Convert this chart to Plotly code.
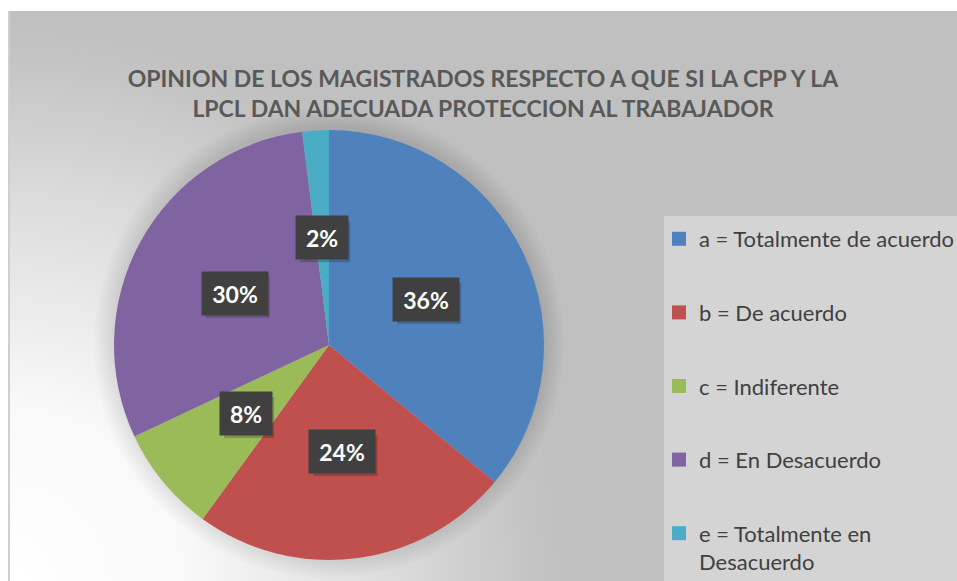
import numpy as np
import plotly.graph_objects as go

# ---- data ----
labels = ["a = Totalmente de acuerdo", "b = De acuerdo", "c = Indiferente",
          "d = En Desacuerdo", "e = Totalmente en<br>Desacuerdo"]
values = [36, 24, 8, 30, 2]
pct_text = ["36%", "24%", "8%", "30%", "2%"]
colors = ["#4F81BD", "#C0504D", "#9BBB59", "#8064A2", "#4BACC6"]
title_text = ("OPINION DE LOS MAGISTRADOS RESPECTO A QUE SI LA CPP Y LA<br>"
              "LPCL DAN ADECUADA PROTECCION AL TRABAJADOR")

# ---- layout geometry (pixels) ----
W, H = 957, 581
L0, T0 = 9, 11          # chart area origin
CX, CY, R = 329, 345, 215

fig = go.Figure()

# background radial gradient (white at bottom-left, grey elsewhere)
G = 1000
gx, gy = L0, H
fig.add_trace(go.Scatter(
    x=[gx - G, gx + G, gx + G, gx - G, gx - G],
    y=[gy - G, gy - G, gy + G, gy + G, gy - G],
    mode="lines", line=dict(width=0), fill="toself",
    fillgradient=dict(type="radial",
                      colorscale=[[0, "#ffffff"], [0.18, "#f8f8f8"], [0.38, "#dcdcdc"],
                                  [0.52, "#c4c4c4"], [0.56, "#c0c0c0"], [1, "#c0c0c0"]]),
    hoverinfo="skip", showlegend=False))

# soft shadow around the pie
t = np.linspace(0, 2 * np.pi, 181)
for k in range(1, 9):
    rr = R + 2.5 * k
    fig.add_trace(go.Scatter(
        x=CX + rr * np.sin(t), y=CY - 2 - rr * np.cos(t),
        mode="lines", line=dict(width=0), fill="toself",
        fillcolor="rgba(0,0,0,0.012)", hoverinfo="skip", showlegend=False))

# pie
fig.add_trace(go.Pie(
    labels=labels, values=values, sort=False, direction="clockwise", rotation=0,
    marker=dict(colors=colors, line=dict(width=0)),
    textinfo="none", showlegend=False,
    domain=dict(x=[(CX - R) / W, (CX + R) / W], y=[1 - (CY + R) / H, 1 - (CY - R) / H])))

# legend entries
for lab, c in zip(labels, colors):
    fig.add_trace(go.Scatter(
        x=[None], y=[None], mode="markers", name=lab, legendgroup=lab,
        marker=dict(symbol="square", size=14, color=c, line=dict(width=0))))

# data labels
total = sum(values)
cum = 0
annotations = []
shapes = []
for v, txt in zip(values, pct_text):
    th = 2 * np.pi * (cum + v / 2) / total
    cum += v
    lx = CX + 0.5 * R * np.sin(th)
    ly = CY - 0.5 * R * np.cos(th)
    w = 64 if len(txt) >= 3 else 50
    shapes.append(dict(type="rect", xref="x", yref="y",
                       x0=lx - w / 2 + 3, x1=lx + w / 2 + 3, y0=ly - 20.5 + 4, y1=ly + 20.5 + 4,
                       fillcolor="rgba(0,0,0,0.2)", line=dict(width=0), layer="above"))
    annotations.append(dict(x=lx, y=ly, xref="x", yref="y", text=txt,
                            showarrow=False, width=w, height=41, bgcolor="#404040",
                            font=dict(family="Lato", size=23, color="#ffffff", weight="bold")))

shapes += [
    dict(type="rect", xref="x", yref="y", x0=664, x1=980, y0=216, y1=600,
         fillcolor="#d4d4d4", line=dict(width=0), layer="above"),
    dict(type="line", xref="paper", yref="paper", x0=L0 / W, x1=L0 / W, y0=0, y1=1 - T0 / H,
         line=dict(color="#cfcfcf", width=2)),
]

fig.update_layout(
    width=W, height=H, margin=dict(l=0, r=0, t=0, b=0, autoexpand=False),
    paper_bgcolor="#ffffff", plot_bgcolor="#c0c0c0",
    xaxis=dict(domain=[L0 / W, 1], range=[L0, W], visible=False, fixedrange=True),
    yaxis=dict(domain=[0, 1 - T0 / H], range=[H, T0], visible=False, fixedrange=True),
    title=dict(text=title_text, x=483 / W, y=1 - 87 / H, xanchor="center", yanchor="middle",
               xref="paper", yref="paper",
               font=dict(family="Lato", size=23, color="#595959", weight="bold")),
    legend=dict(x=659 / W, y=1 - 218 / H, xanchor="left", yanchor="top",
                bgcolor="rgba(0,0,0,0)", tracegroupgap=42, valign="top",
                font=dict(family="Lato", size=22, color="#404040"), itemclick=False),
    shapes=shapes,
    annotations=annotations,
    showlegend=True,
)

fig.write_html("out.html")
